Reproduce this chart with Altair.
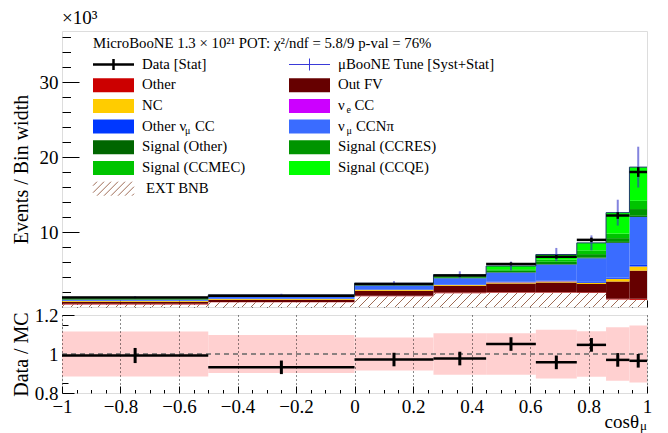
import numpy as np
import pandas as pd
import altair as alt

# ---------------------------------------------------------------- data
# bin edges in cos(theta_mu)
edges = [-1.0, -0.5, 0.0, 0.27, 0.45, 0.62, 0.76, 0.86, 0.94, 1.0]

# predicted events / bin width (x10^3), listed bottom to top of the stack
ext_bnb    = [0.35, 0.62, 1.42, 1.85, 1.90, 1.90, 1.87, 1.00, 0.95]
other      = [0.08, 0.06, 0.08, 0.08, 0.08, 0.08, 0.08, 0.10, 0.15]
out_fv     = [0.28, 0.30, 0.68, 0.90, 1.17, 1.30, 1.12, 2.30, 3.75]
nc         = [0.08, 0.08, 0.12, 0.10, 0.13, 0.13, 0.15, 0.35, 0.55]
nue_cc     = [0.00, 0.00, 0.01, 0.01, 0.01, 0.01, 0.01, 0.01, 0.01]
other_numu = [0.03, 0.04, 0.05, 0.06, 0.08, 0.10, 0.12, 0.15, 0.20]
numu_ccnpi = [0.15, 0.25, 0.50, 0.85, 1.23, 2.15, 3.15, 4.65, 6.40]
sig_other  = [0.05, 0.04, 0.04, 0.04, 0.06, 0.08, 0.10, 0.12, 0.15]
sig_ccres  = [0.08, 0.08, 0.08, 0.10, 0.18, 0.30, 0.45, 0.50, 0.90]
sig_ccmec  = [0.07, 0.05, 0.06, 0.10, 0.20, 0.30, 0.50, 0.60, 1.10]
sig_ccqe   = [0.12, 0.09, 0.13, 0.21, 0.43, 0.65, 1.00, 2.80, 4.49]

# measured events / bin width (x10^3) and statistical uncertainty
data_vals = [1.28, 1.50, 3.08, 4.20, 5.75, 6.70, 8.95, 12.20, 18.00]
data_err  = [0.05, 0.056, 0.11, 0.15, 0.19, 0.245, 0.30, 0.44, 0.65]

# relative (syst + stat) uncertainty of the prediction
mc_rel_err = [0.115, 0.097, 0.085, 0.107, 0.107, 0.125, 0.117, 0.137, 0.146]

comp_names = ["EXT BNB", "Other", "Out FV", "NC", "nue CC", "Other numu CC",
              "numu CCNpi", "Signal (Other)", "Signal (CCRES)",
              "Signal (CCMEC)", "Signal (CCQE)"]
comp_vals = [ext_bnb, other, out_fv, nc, nue_cc, other_numu, numu_ccnpi,
             sig_other, sig_ccres, sig_ccmec, sig_ccqe]
comp_colors = ["#ffffff", "#cc0000", "#660000", "#ffcc00", "#cc00ff", "#0038ff",
               "#3a6cff", "#006600", "#009400", "#00c400", "#00ff00"]

# ---------------------------------------------------------------- geometry
FONT = "Liberation Serif"
YMAX = 36.8
W, H_TOP, H_BOT = 585, 276, 78
SX = W / 2.0            # px per unit of cos(theta)
SY = H_TOP / YMAX       # px per 10^3 events
SR = H_BOT / 0.4        # px per unit of ratio
HATCH = "#935a42"

xs = alt.Scale(domain=[-1, 1], nice=False, zero=False)
ys_top = alt.Scale(domain=[0, YMAX], nice=False, zero=False)
ys_bot = alt.Scale(domain=[0.8, 1.2], nice=False, zero=False)


def px_x(px):
    return -1.0 + px / SX


def px_y(py):
    # py measured downward from the top of the upper panel
    return YMAX - py / SY


def hatch_segments(x_lo, x_hi, y_lo, y_hi, step=9.0):
    """Diagonal '/' strokes clipped to a box, all in pixels (y upward)."""
    segs = []
    h = y_hi - y_lo
    if h <= 0:
        return segs
    c = np.floor((x_lo - h) / step) * step
    while c < x_hi:
        a = max(c, x_lo)
        b = min(c + h, x_hi)
        if b > a:
            segs.append((a, y_lo + (a - c), b, y_lo + (b - c)))
        c += step
    return segs


lo = edges[:-1]
hi = edges[1:]
ctr = [(a + b) / 2 for a, b in zip(lo, hi)]
nb = len(lo)

# stacked rectangles
rows = []
base = np.zeros(nb)
for name, vals in zip(comp_names, comp_vals):
    v = np.array(vals)
    for i in range(nb):
        rows.append(dict(comp=name, lo=lo[i], hi=hi[i], y0=base[i], y1=base[i] + v[i]))
    base = base + v
mc_total = base
stack_df = pd.DataFrame(rows)

# hatching of the EXT BNB component
hrows = []
for i in range(nb):
    for (a, b, c, d) in hatch_segments((lo[i] + 1) * SX, (hi[i] + 1) * SX, 0.0, ext_bnb[i] * SY):
        hrows.append(dict(x=px_x(a), y=b / SY, x2=px_x(c), y2=d / SY))
hatch_df = pd.DataFrame(hrows)

# prediction outline (step)
outline_df = pd.DataFrame({"x": list(lo) + [hi[-1]], "y": list(mc_total) + [mc_total[-1]]})

mc_err_df = pd.DataFrame({"x": ctr,
                          "y": mc_total * (1 - np.array(mc_rel_err)),
                          "y2": mc_total * (1 + np.array(mc_rel_err))})
data_df = pd.DataFrame({"lo": lo, "hi": hi, "x": ctr, "y": data_vals,
                        "ylo": np.array(data_vals) - np.array(data_err),
                        "yhi": np.array(data_vals) + np.array(data_err)})

ratio = np.array(data_vals) / mc_total
ratio_err = np.array(data_err) / mc_total
ratio_df = pd.DataFrame({"lo": lo, "hi": hi, "x": ctr, "r": ratio,
                         "rlo": ratio - ratio_err, "rhi": ratio + ratio_err})
band_df = pd.DataFrame({"lo": lo, "hi": hi,
                        "b0": 1 - np.array(mc_rel_err), "b1": 1 + np.array(mc_rel_err)})

# ---------------------------------------------------------------- legend
ROW0, PITCH = 33.5, 20.7
COLS = [(31.0, 72.0, 80.0), (227.0, 268.0, 276.0)]  # swatch left, right, text x (px)
SUB = 4.5

legend_boxes = [
    (1, 0, "Other"), (1, 1, "Out FV"), (2, 0, "NC"), (2, 1, "nue CC"),
    (3, 0, "Other numu CC"), (3, 1, "numu CCNpi"),
    (4, 0, "Signal (Other)"), (4, 1, "Signal (CCRES)"),
    (5, 0, "Signal (CCMEC)"), (5, 1, "Signal (CCQE)"),
]
box_rows = []
for r, c, name in legend_boxes:
    yc = ROW0 + r * PITCH
    box_rows.append(dict(comp=name, x=px_x(COLS[c][0]), x2=px_x(COLS[c][1]),
                         y=px_y(yc - 7), y2=px_y(yc + 7)))
leg_box_df = pd.DataFrame(box_rows)

# hatched swatch for EXT BNB
yc_ext = ROW0 + 6 * PITCH
lh = []
for (a, b, c, d) in hatch_segments(COLS[0][0], COLS[0][1], 0.0, 14.0, step=7.0):
    lh.append(dict(x=px_x(a), y=px_y(yc_ext + 7 - b), x2=px_x(c), y2=px_y(yc_ext + 7 - d)))
leg_hatch_df = pd.DataFrame(lh)

# data / prediction markers in the legend
yd = ROW0
xm0 = (COLS[0][0] + COLS[0][1]) / 2
xm1 = (COLS[1][0] + COLS[1][1]) / 2
leg_sym_df = pd.DataFrame([
    dict(x=px_x(COLS[0][0]), x2=px_x(COLS[0][1]), y=px_y(yd), y2=px_y(yd), col="#000000", w=2.5),
    dict(x=px_x(xm0), x2=px_x(xm0), y=px_y(yd - 5.5), y2=px_y(yd + 5.5), col="#000000", w=2.5),
    dict(x=px_x(COLS[1][0]), x2=px_x(COLS[1][1]), y=px_y(yd), y2=px_y(yd), col="#3a3ad8", w=1.0),
    dict(x=px_x(xm1), x2=px_x(xm1), y=px_y(yd - 6), y2=px_y(yd + 6), col="#3a3ad8", w=1.0),
])

# legend text pieces: (row, col, x offset px, is subscript, text)
text_pieces = [
    (0, 0, 0, False, "Data [Stat]"), (0, 1, 0, False, "μBooNE Tune [Syst+Stat]"),
    (1, 0, 0, False, "Other"), (1, 1, 0, False, "Out FV"),
    (2, 0, 0, False, "NC"),
    (2, 1, 0, False, "ν"), (2, 1, 8.5, True, "e"), (2, 1, 16.5, False, "CC"),
    (3, 0, 0, False, "Other ν"), (3, 0, 43, True, "μ"), (3, 0, 53, False, "CC"),
    (3, 1, 0, False, "ν"), (3, 1, 8.5, True, "μ"), (3, 1, 18, False, "CCNπ"),
    (4, 0, 0, False, "Signal (Other)"), (4, 1, 0, False, "Signal (CCRES)"),
    (5, 0, 0, False, "Signal (CCMEC)"), (5, 1, 0, False, "Signal (CCQE)"),
    (6, 0, 4, False, "EXT BNB"),
]
trows = []
for r, c, dx, sub, txt in text_pieces:
    yc = ROW0 + r * PITCH + (SUB if sub else 0)
    trows.append(dict(x=px_x(COLS[c][2] + dx), y=px_y(yc), t=txt, fs=10 if sub else 14.8))
trows.append(dict(x=px_x(31), y=px_y(13), t="MicroBooNE 1.3 × 10²¹ POT: χ²/ndf = 5.8/9 p-val = 76%", fs=14.8))
leg_text_df = pd.DataFrame(trows)

# ---------------------------------------------------------------- helpers
NOAX = dict(axis=None)


def tick_axis(orient, values, size):
    return alt.Axis(orient=orient, values=values, offset=-size, tickSize=size,
                    labels=False, domain=False, grid=False, title=None,
                    tickColor="black", tickWidth=1)


def axis_layer(yscale, y0, x_axis, y_axis):
    df = pd.DataFrame({"ax": [0.0], "ay": [y0]})
    return alt.Chart(df).mark_point(opacity=0).encode(
        x=alt.X("ax:Q", scale=xs, axis=x_axis),
        y=alt.Y("ay:Q", scale=ys_top if yscale == "top" else ys_bot, axis=y_axis),
    )


x_major = [round(-1 + 0.2 * k, 1) for k in range(11)]
x_minor = [round(-1 + 0.05 * k, 2) for k in range(41) if k % 4]
y_major_top = [10, 20, 30]
y_minor_top = [v for v in range(2, 37, 2) if v % 10]
r_major = [0.8, 1.0, 1.2]
r_minor = [0.85, 0.9, 0.95, 1.05, 1.1, 1.15]

# ---------------------------------------------------------------- upper panel
stack = alt.Chart(stack_df).mark_rect().encode(
    x=alt.X("lo:Q", scale=xs, **NOAX), x2="hi:Q",
    y=alt.Y("y0:Q", scale=ys_top, **NOAX), y2="y1:Q",
    color=alt.Color("comp:N", scale=alt.Scale(domain=comp_names, range=comp_colors), legend=None),
)
hatch = alt.Chart(hatch_df).mark_rule(color=HATCH, strokeWidth=0.9).encode(
    x=alt.X("x:Q", scale=xs, **NOAX), x2="x2:Q",
    y=alt.Y("y:Q", scale=ys_top, **NOAX), y2="y2:Q",
)
outline = alt.Chart(outline_df).mark_line(interpolate="step-after", color="#1f3d6b", strokeWidth=1).encode(
    x=alt.X("x:Q", scale=xs, **NOAX), y=alt.Y("y:Q", scale=ys_top, **NOAX),
)
mc_err = alt.Chart(mc_err_df).mark_rule(color="#3030c8", opacity=0.6, strokeWidth=2).encode(
    x=alt.X("x:Q", scale=xs, **NOAX), y=alt.Y("y:Q", scale=ys_top, **NOAX), y2="y2:Q",
)
data_h = alt.Chart(data_df).mark_rule(color="black", strokeWidth=2.5).encode(
    x=alt.X("lo:Q", scale=xs, **NOAX), x2="hi:Q", y=alt.Y("y:Q", scale=ys_top, **NOAX),
)
data_v = alt.Chart(data_df).mark_rule(color="black", strokeWidth=2.5).encode(
    x=alt.X("x:Q", scale=xs, **NOAX), y=alt.Y("ylo:Q", scale=ys_top, **NOAX), y2="yhi:Q",
)
leg_box = alt.Chart(leg_box_df).mark_rect().encode(
    x=alt.X("x:Q", scale=xs, **NOAX), x2="x2:Q",
    y=alt.Y("y:Q", scale=ys_top, **NOAX), y2="y2:Q",
    color=alt.Color("comp:N", scale=alt.Scale(domain=comp_names, range=comp_colors), legend=None),
)
leg_hatch = alt.Chart(leg_hatch_df).mark_rule(color=HATCH, strokeWidth=0.9).encode(
    x=alt.X("x:Q", scale=xs, **NOAX), x2="x2:Q",
    y=alt.Y("y:Q", scale=ys_top, **NOAX), y2="y2:Q",
)
leg_sym = alt.Chart(leg_sym_df).mark_rule().encode(
    x=alt.X("x:Q", scale=xs, **NOAX), x2="x2:Q",
    y=alt.Y("y:Q", scale=ys_top, **NOAX), y2="y2:Q",
    color=alt.Color("col:N", scale=None), strokeWidth=alt.StrokeWidth("w:Q", scale=None),
)
leg_text = alt.Chart(leg_text_df).mark_text(align="left", baseline="middle", font=FONT, color="black").encode(
    x=alt.X("x:Q", scale=xs, **NOAX), y=alt.Y("y:Q", scale=ys_top, **NOAX),
    text="t:N", size=alt.Size("fs:Q", scale=None),
)

top_ylab = alt.Axis(orient="left", values=y_major_top, ticks=False, tickSize=0, domain=False, grid=False,
                    labelPadding=4, labelFontSize=19, labelFont=FONT, labelColor="black",
                    title="Events / Bin width", titleFont=FONT, titleFontSize=20,
                    titleFontWeight="normal", titleColor="black", titleX=-41, titleBaseline="middle")

top = alt.layer(
    stack, hatch, outline, mc_err, data_h, data_v,
    leg_box, leg_hatch, leg_sym, leg_text,
    axis_layer("top", 0.0, None, top_ylab),
    axis_layer("top", 0.0, tick_axis("bottom", x_major, 7), tick_axis("left", y_major_top, 17)),
    axis_layer("top", 0.0, tick_axis("bottom", x_minor, 3.5), tick_axis("left", y_minor_top, 8.5)),
).properties(
    width=W, height=H_TOP,
    title=alt.TitleParams("×10³", anchor="start", frame="group", font=FONT, fontSize=19,
                          fontWeight="normal", color="black", offset=3),
).resolve_axis(x="independent", y="independent")

# ---------------------------------------------------------------- ratio panel
band = alt.Chart(band_df).mark_rect(color="#ffd0d0").encode(
    x=alt.X("lo:Q", scale=xs, **NOAX), x2="hi:Q",
    y=alt.Y("b0:Q", scale=ys_bot, **NOAX), y2="b1:Q",
)
unity = alt.Chart(pd.DataFrame({"x": [-1.0], "x2": [1.0], "y": [1.0]})).mark_rule(
    color="#666666", strokeWidth=1.5, strokeDash=[5, 4]).encode(
    x=alt.X("x:Q", scale=xs, **NOAX), x2="x2:Q", y=alt.Y("y:Q", scale=ys_bot, **NOAX),
)
r_h = alt.Chart(ratio_df).mark_rule(color="black", strokeWidth=2.5).encode(
    x=alt.X("lo:Q", scale=xs, **NOAX), x2="hi:Q", y=alt.Y("r:Q", scale=ys_bot, **NOAX),
)
r_v = alt.Chart(ratio_df).mark_rule(color="black", strokeWidth=3).encode(
    x=alt.X("x:Q", scale=xs, **NOAX), y=alt.Y("rlo:Q", scale=ys_bot, **NOAX), y2="rhi:Q",
)
# x-axis title cos(theta_mu) with subscript
xt_df = pd.DataFrame([
    dict(x=px_x(W - 8), y=0.8 - 29 / SR, t="cosθ", fs=19),
    dict(x=px_x(W), y=0.8 - 33 / SR, t="μ", fs=13),
])
xtitle = alt.Chart(xt_df).mark_text(align="right", baseline="middle", font=FONT, color="black").encode(
    x=alt.X("x:Q", scale=xs, **NOAX), y=alt.Y("y:Q", scale=ys_bot, **NOAX),
    text="t:N", size=alt.Size("fs:Q", scale=None),
)

bot_xlab = alt.Axis(orient="bottom", values=x_major, ticks=False, tickSize=0, domain=False,
                    grid=True, gridColor="black", gridDash=[1, 3], gridWidth=1, gridOpacity=0.9,
                    labelPadding=4, labelFontSize=19, labelFont=FONT, labelColor="black",
                    labelFlush=False, format="~g", title=None, zindex=1)
bot_ylab = alt.Axis(orient="left", values=r_major, ticks=False, tickSize=0, domain=False, grid=False,
                    labelPadding=4, labelFontSize=19, labelFont=FONT, labelColor="black",
                    labelFlush=False, format="~g",
                    title="Data / MC", titleFont=FONT, titleFontSize=20,
                    titleFontWeight="normal", titleColor="black", titleX=-41, titleBaseline="middle")

bottom = alt.layer(
    band, unity, r_h, r_v, xtitle,
    axis_layer("bot", 0.8, bot_xlab, bot_ylab),
    axis_layer("bot", 0.8, tick_axis("bottom", x_major, 7), tick_axis("left", r_major, 12)),
    axis_layer("bot", 0.8, tick_axis("bottom", x_minor, 3.5), tick_axis("left", r_minor, 6)),
).properties(width=W, height=H_BOT).resolve_axis(x="independent", y="independent")

chart = alt.vconcat(top, bottom, spacing=8, bounds="flush").properties(
    padding={"left": 10, "top": 8, "right": 5, "bottom": 5},
).configure_view(stroke="black", strokeWidth=1).configure(font=FONT)

chart.save("out.html", embed_options={"renderer": "svg", "actions": False})
